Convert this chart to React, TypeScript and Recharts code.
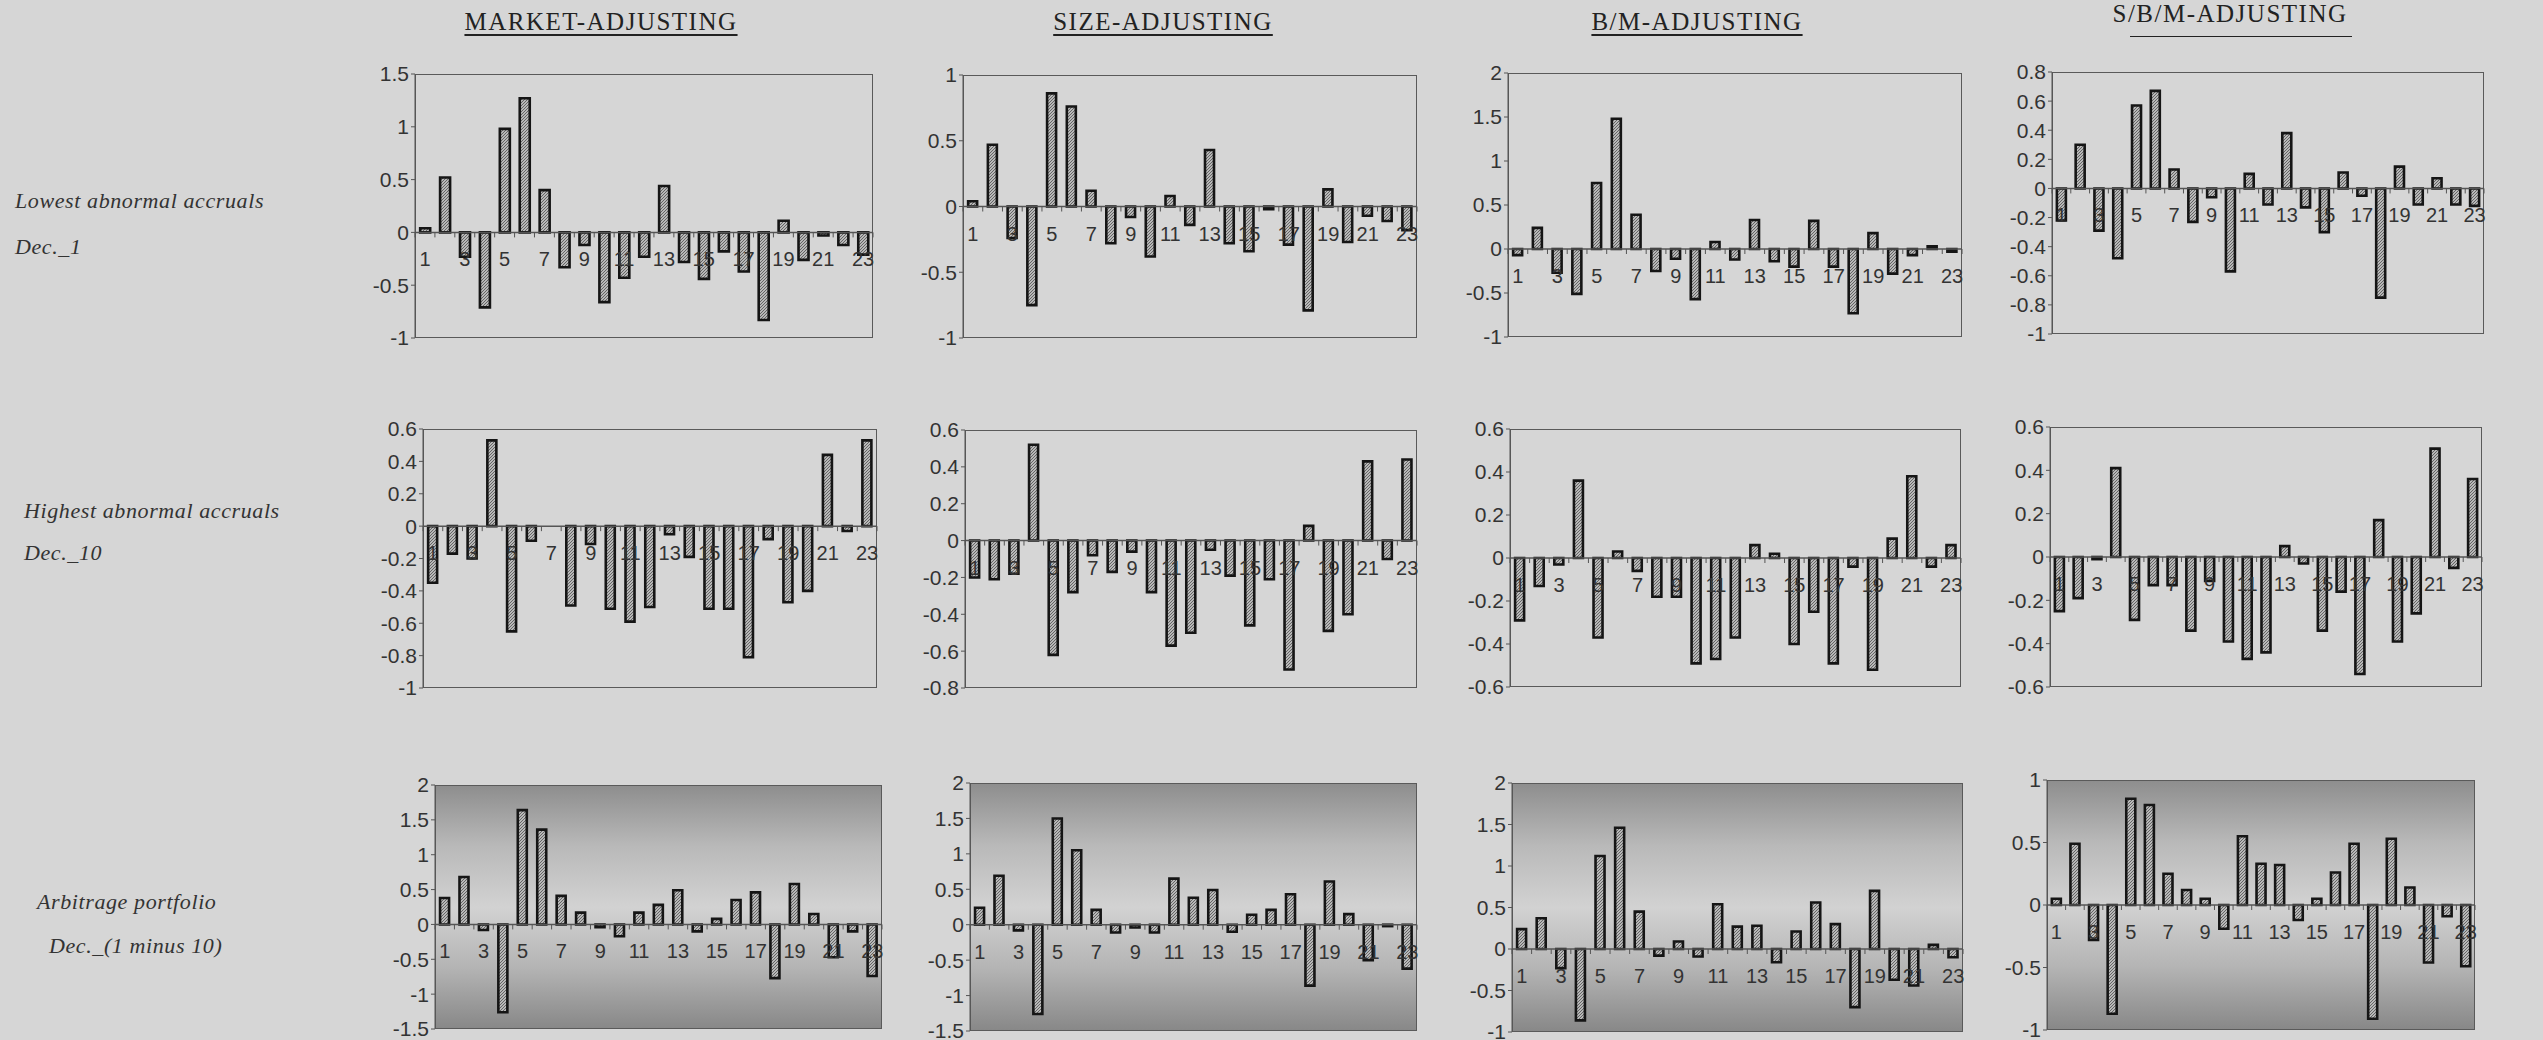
import React from 'react'
import { BarChart, Bar, XAxis, YAxis, ReferenceLine } from 'recharts'

// event months 1..23
const periods = Array.from({ length: 23 }, (_, i) => String(i + 1))

// lowest abnormal accruals (decile 1)
const marketDec1 = [0.04, 0.52, -0.23, -0.71, 0.98, 1.27, 0.4, -0.33, -0.12, -0.66, -0.43, -0.23, 0.44, -0.28, -0.44, -0.18, -0.37, -0.83, 0.11, -0.26, -0.03, -0.12, -0.21]
const sizeDec1 = [0.04, 0.47, -0.24, -0.75, 0.86, 0.76, 0.12, -0.28, -0.08, -0.38, 0.08, -0.14, 0.43, -0.28, -0.34, -0.02, -0.29, -0.79, 0.13, -0.27, -0.07, -0.11, -0.18]
const bmDec1 = [-0.07, 0.24, -0.27, -0.51, 0.75, 1.48, 0.39, -0.25, -0.11, -0.57, 0.08, -0.12, 0.33, -0.14, -0.2, 0.32, -0.2, -0.73, 0.18, -0.28, -0.07, 0.03, -0.03]
const sbmDec1 = [-0.22, 0.3, -0.29, -0.48, 0.57, 0.67, 0.13, -0.23, -0.06, -0.57, 0.1, -0.11, 0.38, -0.13, -0.3, 0.11, -0.05, -0.75, 0.15, -0.11, 0.07, -0.11, -0.12]

// highest abnormal accruals (decile 10)
const marketDec10 = [-0.35, -0.17, -0.2, 0.53, -0.65, -0.09, 0, -0.49, -0.11, -0.51, -0.59, -0.5, -0.05, -0.19, -0.51, -0.51, -0.81, -0.08, -0.47, -0.4, 0.44, -0.03, 0.53]
const sizeDec10 = [-0.2, -0.21, -0.18, 0.52, -0.62, -0.28, -0.08, -0.17, -0.06, -0.28, -0.57, -0.5, -0.05, -0.19, -0.46, -0.21, -0.7, 0.08, -0.49, -0.4, 0.43, -0.1, 0.44]
const bmDec10 = [-0.29, -0.13, -0.03, 0.36, -0.37, 0.03, -0.06, -0.18, -0.18, -0.49, -0.47, -0.37, 0.06, 0.02, -0.4, -0.25, -0.49, -0.04, -0.52, 0.09, 0.38, -0.04, 0.06]
const sbmDec10 = [-0.25, -0.19, -0.01, 0.41, -0.29, -0.13, -0.13, -0.34, -0.11, -0.39, -0.47, -0.44, 0.05, -0.03, -0.34, -0.16, -0.54, 0.17, -0.39, -0.26, 0.5, -0.05, 0.36]

// arbitrage portfolio (1 minus 10)
const marketArb = [0.38, 0.68, -0.08, -1.26, 1.64, 1.36, 0.41, 0.17, -0.04, -0.17, 0.17, 0.28, 0.49, -0.1, 0.08, 0.35, 0.46, -0.77, 0.58, 0.15, -0.47, -0.1, -0.74]
const sizeArb = [0.24, 0.69, -0.08, -1.26, 1.5, 1.05, 0.21, -0.11, -0.04, -0.11, 0.65, 0.38, 0.49, -0.1, 0.14, 0.21, 0.43, -0.86, 0.61, 0.15, -0.5, -0.02, -0.62]
const bmArb = [0.24, 0.37, -0.23, -0.86, 1.12, 1.46, 0.45, -0.08, 0.09, -0.09, 0.54, 0.27, 0.28, -0.16, 0.21, 0.56, 0.3, -0.7, 0.7, -0.37, -0.44, 0.05, -0.1]
const sbmArb = [0.05, 0.49, -0.28, -0.87, 0.85, 0.8, 0.25, 0.12, 0.05, -0.19, 0.55, 0.33, 0.32, -0.12, 0.05, 0.26, 0.49, -0.91, 0.53, 0.14, -0.46, -0.09, -0.49]

// y tick sets
const ticks15 = [1.5, 1, 0.5, 0, -0.5, -1]
const ticks1 = [1, 0.5, 0, -0.5, -1]
const ticks2 = [2, 1.5, 1, 0.5, 0, -0.5, -1]
const ticks08 = [0.8, 0.6, 0.4, 0.2, 0, -0.2, -0.4, -0.6, -0.8, -1]
const ticks06to1 = [0.6, 0.4, 0.2, 0, -0.2, -0.4, -0.6, -0.8, -1]
const ticks06to08 = [0.6, 0.4, 0.2, 0, -0.2, -0.4, -0.6, -0.8]
const ticks06 = [0.6, 0.4, 0.2, 0, -0.2, -0.4, -0.6]
const ticks2to15 = [2, 1.5, 1, 0.5, 0, -0.5, -1, -1.5]

const columnTitles = ['MARKET-ADJUSTING', 'SIZE-ADJUSTING', 'B/M-ADJUSTING', 'S/B/M-ADJUSTING']

const SANS = '"Liberation Sans", Arial, sans-serif'
const SERIF = '"Liberation Serif", "Times New Roman", serif'
const BG = '#d6d6d6'
const AXIS_W = 64
const X_H = 1
const M = { top: 14, right: 8, bottom: 10, left: 0 }

const panels = [
  { id: 'p1', values: marketDec1, ticks: ticks15, box: { x: 415, y: 74, w: 458, h: 264 } },
  { id: 'p2', values: sizeDec1, ticks: ticks1, box: { x: 963, y: 75, w: 454, h: 263 } },
  { id: 'p3', values: bmDec1, ticks: ticks2, box: { x: 1508, y: 73, w: 454, h: 264 } },
  { id: 'p4', values: sbmDec1, ticks: ticks08, box: { x: 2052, y: 72, w: 432, h: 262 } },
  { id: 'p5', values: marketDec10, ticks: ticks06to1, box: { x: 423, y: 429, w: 454, h: 259 } },
  { id: 'p6', values: sizeDec10, ticks: ticks06to08, box: { x: 965, y: 430, w: 452, h: 258 } },
  { id: 'p7', values: bmDec10, ticks: ticks06, box: { x: 1510, y: 429, w: 451, h: 258 } },
  { id: 'p8', values: sbmDec10, ticks: ticks06, box: { x: 2050, y: 427, w: 432, h: 260 } },
  { id: 'p9', values: marketArb, ticks: ticks2to15, box: { x: 435, y: 785, w: 447, h: 244 }, shaded: true },
  { id: 'p10', values: sizeArb, ticks: ticks2to15, box: { x: 970, y: 783, w: 447, h: 248 }, shaded: true },
  { id: 'p11', values: bmArb, ticks: ticks2, box: { x: 1512, y: 783, w: 451, h: 249 }, shaded: true },
  { id: 'p12', values: sbmArb, ticks: ticks1, box: { x: 2047, y: 780, w: 428, h: 250 }, shaded: true },
]

// category labels sit just under the zero line, odd months only
const CategoryTick = (props: any) => {
  const { x, payload, zeroY, band } = props
  const n = Number(payload.value)
  return (
    <g>
      <line x1={x - band / 2} x2={x - band / 2} y1={zeroY} y2={zeroY + 5} stroke="#555" />
      {n === periods.length && (
        <line x1={x + band / 2} x2={x + band / 2} y1={zeroY} y2={zeroY + 5} stroke="#555" />
      )}
      {n % 2 === 1 && (
        <text x={x} y={zeroY + 34} textAnchor="middle" fontSize={20} fill="#333" fontFamily={SANS}>
          {payload.value}
        </text>
      )}
    </g>
  )
}

const Panel = ({ values, ticks, box, shaded }: any) => {
  const data = periods.map((p, i) => ({ period: p, value: values[i] }))
  const max = ticks[0]
  const min = ticks[ticks.length - 1]
  const zeroY = M.top + (box.h * max) / (max - min)
  const band = box.w / periods.length
  return (
    <>
      <div
        style={{
          position: 'absolute',
          left: box.x,
          top: box.y,
          width: box.w,
          height: box.h,
          boxSizing: 'border-box',
          border: '1px solid #5a5a5a',
          background: shaded
            ? 'linear-gradient(to bottom, #8e8e8e 0%, #b9b9b9 25%, #d2d2d2 50%, #b4b4b4 75%, #888888 100%)'
            : BG,
        }}
      />
      <div style={{ position: 'absolute', left: box.x - AXIS_W, top: box.y - M.top }}>
        <BarChart
          width={AXIS_W + box.w + M.right}
          height={box.h + M.top + M.bottom + X_H}
          data={data}
          margin={M}
          barCategoryGap="26%"
        >
          <XAxis
            dataKey="period"
            height={X_H}
            axisLine={false}
            tickLine={false}
            interval={0}
            tick={<CategoryTick zeroY={zeroY} band={band} />}
          />
          <YAxis
            domain={[min, max]}
            ticks={ticks}
            interval={0}
            width={AXIS_W}
            tickSize={4}
            tickMargin={2}
            axisLine={{ stroke: '#555' }}
            tickLine={{ stroke: '#555' }}
            tick={{ fontSize: 21, fill: '#333', fontFamily: SANS }}
          />
          <ReferenceLine y={0} stroke="#555" strokeWidth={1.5} />
          <Bar
            dataKey="value"
            fill="url(#hatch)"
            stroke="#151515"
            strokeWidth={2.6}
            isAnimationActive={false}
          />
        </BarChart>
      </div>
    </>
  )
}

const rowLabels = [
  { text: 'Lowest abnormal accruals', x: 15, y: 188 },
  { text: 'Dec._1', x: 15, y: 234 },
  { text: 'Highest abnormal accruals', x: 24, y: 498 },
  { text: 'Dec._10', x: 24, y: 540 },
  { text: 'Arbitrage portfolio', x: 37, y: 889 },
  { text: 'Dec._(1 minus 10)', x: 49, y: 933 },
]

const titlePos = [
  { cx: 601, top: 8 },
  { cx: 1163, top: 8 },
  { cx: 1697, top: 8 },
  { cx: 2230, top: 0 },
]

export default function App() {
  return (
    <div
      style={{
        position: 'absolute',
        left: 0,
        top: 0,
        width: 2543,
        height: 1040,
        background: BG,
        overflow: 'hidden',
      }}
    >
      <svg width={0} height={0} style={{ position: 'absolute' }}>
        <defs>
          <pattern id="hatch" patternUnits="userSpaceOnUse" width={3} height={3}>
            <rect width={3} height={3} fill="#b8b8b8" />
            <path d="M0,3 L3,0" stroke="#5a5a5a" strokeWidth={0.9} />
          </pattern>
        </defs>
      </svg>

      {columnTitles.map((t, i) => (
        <div
          key={t}
          style={{
            position: 'absolute',
            left: titlePos[i].cx,
            top: titlePos[i].top,
            transform: 'translateX(-50%)',
            fontFamily: SERIF,
            fontSize: 25,
            letterSpacing: 1.5,
            color: '#222',
            whiteSpace: 'nowrap',
            textDecoration: i === 3 ? 'none' : 'underline',
            textUnderlineOffset: 4,
          }}
        >
          {t}
        </div>
      ))}
      <div style={{ position: 'absolute', left: 2130, top: 36, width: 222, height: 0, borderTop: '1.5px solid #222' }} />

      {rowLabels.map((r) => (
        <div
          key={r.text}
          style={{
            position: 'absolute',
            left: r.x,
            top: r.y,
            fontFamily: SERIF,
            fontStyle: 'italic',
            fontSize: 22,
            letterSpacing: 0.6,
            color: '#333',
            whiteSpace: 'nowrap',
          }}
        >
          {r.text}
        </div>
      ))}

      {panels.map((p) => (
        <Panel key={p.id} {...p} />
      ))}
    </div>
  )
}
